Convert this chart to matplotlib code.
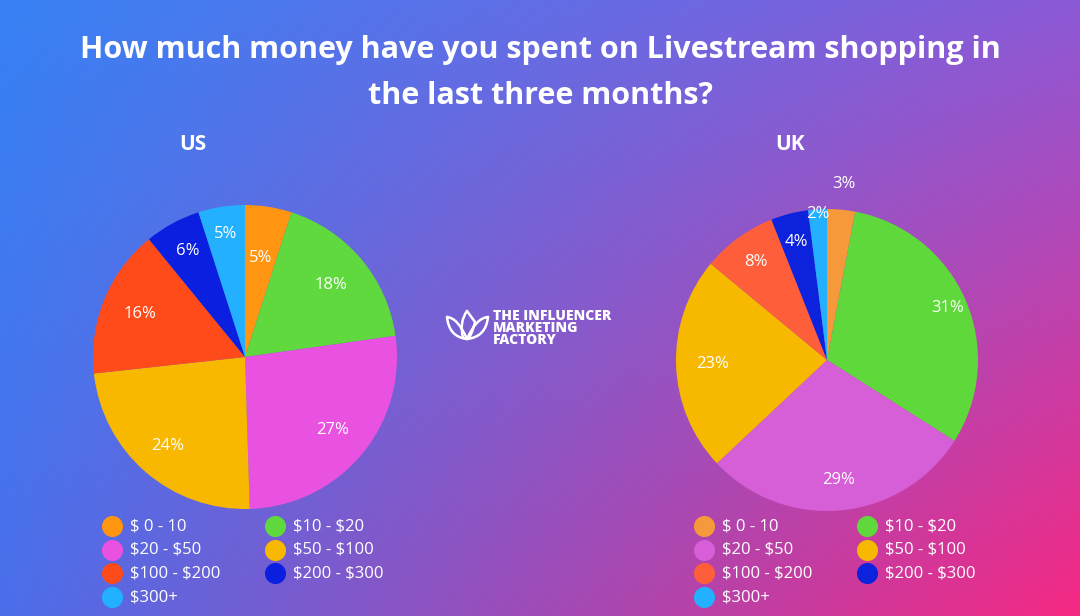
import matplotlib.pyplot as plt
import numpy as np
from matplotlib.path import Path
from matplotlib.patches import PathPatch

plt.rcParams['font.family'] = ['Open Sans', 'DejaVu Sans']
plt.rcParams['text.parse_math'] = False

title = 'How much money have you spent on Livestream shopping in\nthe last three months?'
categories = ['$ 0 - 10', '$10 - $20', '$20 - $50', '$50 - $100',
              '$100 - $200', '$200 - $300', '$300+']
us_values = [5, 18, 27, 24, 16, 6, 5]
uk_values = [3, 31, 29, 23, 8, 4, 2]
us_colors = ['#ff9510', '#5fd93d', '#e952e0', '#f9b800', '#ff4a1a', '#0a1fe0', '#22b0ff']
uk_colors = ['#f5993a', '#5ed83a', '#d65ed6', '#f7b900', '#ff5e3a', '#0c22dd', '#22b0ff']

W, H = 1080, 616
fig = plt.figure(figsize=(W / 100, H / 100), dpi=100)

# background gradient (bilinear between corner colours)
bg = fig.add_axes([0, 0, 1, 1], zorder=0)
tl = np.array([55, 130, 245]) / 255
tr = np.array([140, 90, 215]) / 255
bl = np.array([75, 110, 235]) / 255
br = np.array([245, 40, 130]) / 255
u = np.linspace(0, 1, W)[None, :, None]
v = np.linspace(0, 1, H)[:, None, None]
img = (1 - u) * (1 - v) * tl + u * (1 - v) * tr + (1 - u) * v * bl + u * v * br
bg.imshow(img, aspect='auto', extent=[0, W, H, 0], origin='upper')
bg.set_xlim(0, W)
bg.set_ylim(H, 0)
bg.axis('off')

for k, line in enumerate(title.split('\n')):
    fig.text(0.5, 1 - (50 + 46 * k) / H, line, ha='center', va='center', color='white',
             fontsize=22, fontweight='bold')


def draw_pie(cx, cy, r, values, colors, name, nx, radii):
    ax = fig.add_axes([(cx - r) / W, 1 - (cy + r) / H, 2 * r / W, 2 * r / H], zorder=2)
    ax.pie(values, colors=colors, startangle=90, counterclock=False, radius=1.0)
    ang0 = 90.0
    total = sum(values)
    for i, val in enumerate(values):
        span = 360.0 * val / total
        mid = np.deg2rad(ang0 - span / 2)
        ang0 -= span
        rr = radii[i]
        ax.text(rr * np.cos(mid), rr * np.sin(mid), f'{val}%', ha='center',
                va='center', color='white', fontsize=12)
    ax.set_xlim(-1, 1)
    ax.set_ylim(-1, 1)
    ax.set_aspect('equal')
    ax.axis('off')
    fig.text(nx / W, 1 - 145 / H, name, ha='center', va='center', color='white',
             fontsize=15, fontweight='bold')


draw_pie(245, 357, 152, us_values, us_colors, 'US', 193,
         [0.66, 0.74, 0.75, 0.78, 0.75, 0.79, 0.82])
draw_pie(827, 360, 151, uk_values, uk_colors, 'UK', 790,
         [1.17, 0.87, 0.8, 0.76, 0.8, 0.81, 0.97])


def draw_legend(x0, y0, colors):
    for i, (lab, col) in enumerate(zip(categories, colors)):
        col_i, row = i % 2, i // 2
        x = x0 + col_i * 163
        y = y0 + row * 23.7
        bg.scatter([x], [y], s=200, color=col, zorder=3)
        bg.text(x + 18, y, lab, color='white', fontsize=12, va='center', ha='left')


draw_legend(112, 526, us_colors)
draw_legend(704, 526, uk_colors)

# logo: rough lotus outline
C, M, Q = Path.CURVE3, Path.MOVETO, Path.CURVE3
lotus = [
    # centre petal
    ([(467, 311), (459, 322), (463, 338), (467, 339), (471, 338), (475, 322), (467, 311)],
     [M, C, C, Path.LINETO, C, C, Path.LINETO]),
    # left petal
    ([(447, 317), (449, 337), (467, 339), (458, 318), (447, 317)],
     [M, C, C, C, C]),
    # right petal
    ([(488, 317), (486, 337), (467, 339), (476, 318), (488, 317)],
     [M, C, C, C, C]),
]
for verts, codes in lotus:
    bg.add_patch(PathPatch(Path(verts, codes), fill=False, edgecolor='white',
                           lw=1.8, zorder=3, capstyle='round', joinstyle='round'))
for k, line in enumerate(['THE INFLUENCER', 'MARKETING', 'FACTORY']):
    bg.text(493, 316 + k * 12, line, color='white',
            fontsize=10, fontweight='heavy', va='center', ha='left')

fig.savefig('out.png', dpi=100)
